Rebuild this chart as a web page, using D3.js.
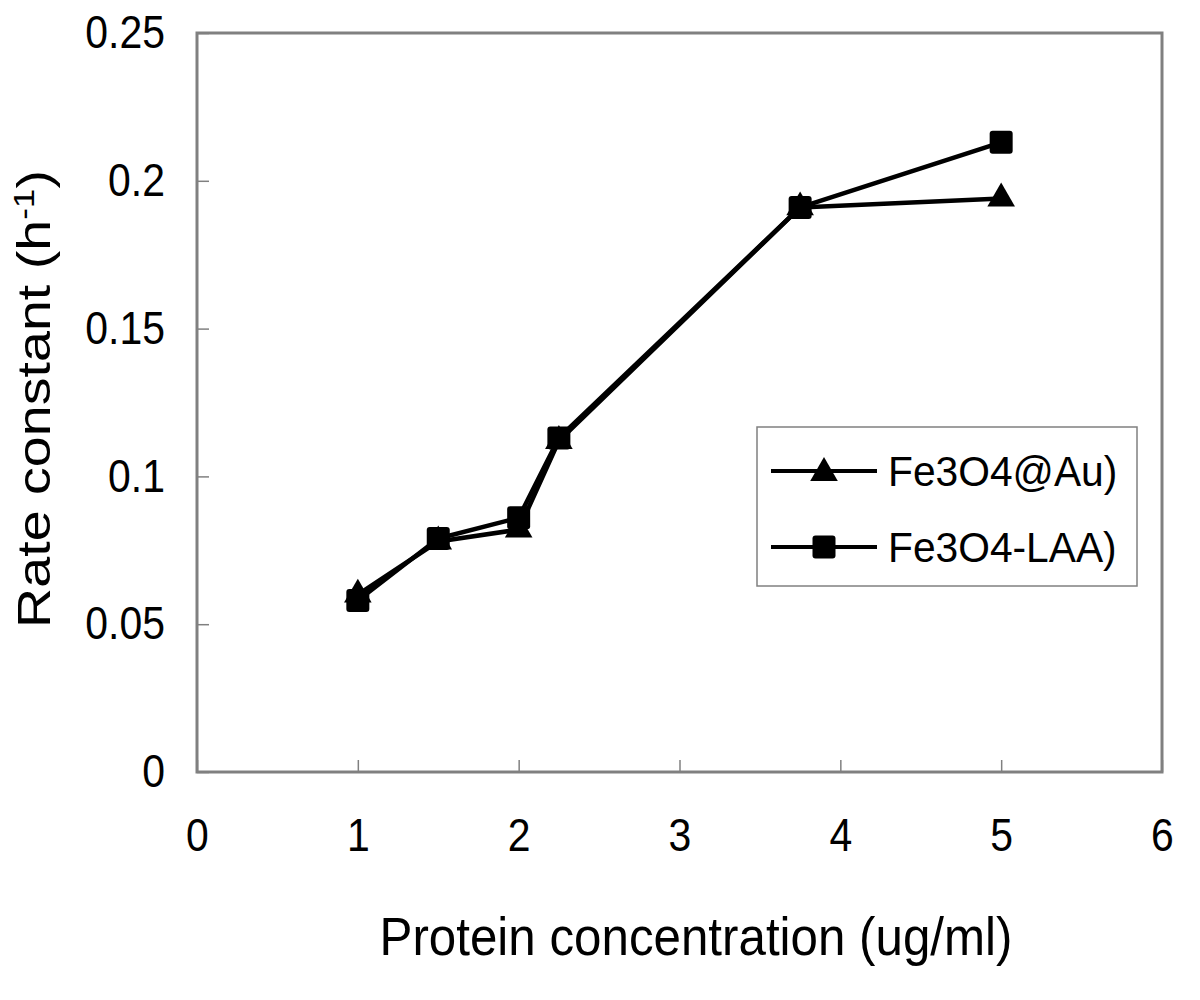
<!DOCTYPE html>
<html>
<head>
<meta charset="utf-8">
<script src="https://cdn.jsdelivr.net/npm/d3@7"></script>
<style>
  body { margin: 0; background: #fff; }
  svg { display: block; font-family: "Liberation Sans", Arial, sans-serif; }
</style>
</head>
<body>
<div id="chart"></div>
<script>
// data
const xValues = [1, 1.5, 2, 2.25, 3.75, 5];
const auValues = [0.060, 0.078, 0.082, 0.112, 0.191, 0.194];
const laaValues = [0.058, 0.079, 0.086, 0.113, 0.191, 0.213];
const seriesNames = ["Fe3O4@Au)", "Fe3O4-LAA)"];
const xTicks = [0, 1, 2, 3, 4, 5, 6];
const yTicks = [0, 0.05, 0.1, 0.15, 0.2, 0.25];
const yTickLabels = ["0", "0.05", "0.1", "0.15", "0.2", "0.25"];

const width = 1200, height = 1000;
const margin = { top: 33, right: 38, bottom: 228, left: 197 };

const svg = d3.select("#chart").append("svg")
  .attr("width", width).attr("height", height);

const x = d3.scaleLinear().domain([0, 6]).range([margin.left, width - margin.right]);
const y = d3.scaleLinear().domain([0, 0.25]).range([height - margin.bottom, margin.top]);

// the original text is a bit narrow for its height: squeeze it horizontally
function squeeze(sel, factor) {
  sel.each(function () {
    const len = this.getComputedTextLength();
    d3.select(this).attr("textLength", len * factor).attr("lengthAdjust", "spacingAndGlyphs");
  });
}

// ── axes (ticks point inward) ───────────────────────────────────────────────
const xAxis = svg.append("g")
  .attr("transform", `translate(0,${y(0)})`)
  .call(d3.axisBottom(x).tickValues(xTicks).tickSize(-12).tickPadding(46)
    .tickFormat(d3.format("d")));

const yAxis = svg.append("g")
  .attr("transform", `translate(${x(0)},0)`)
  .call(d3.axisLeft(y).tickValues(yTicks).tickSize(-12).tickPadding(32)
    .tickFormat((d, i) => yTickLabels[i]));

for (const ax of [xAxis, yAxis]) {
  ax.select(".domain").remove();
  ax.selectAll(".tick line").attr("stroke", "#808080").attr("stroke-width", 1.5);
  ax.selectAll(".tick text").attr("fill", "#000").attr("font-size", "46px")
    .attr("font-family", "'Liberation Sans', Arial, sans-serif");
  squeeze(ax.selectAll(".tick text"), 0.89);
}
yAxis.selectAll(".tick text").attr("dy", "0.32em");

// plot frame
svg.append("rect")
  .attr("x", x(0)).attr("y", y(0.25))
  .attr("width", x(6) - x(0)).attr("height", y(0) - y(0.25))
  .attr("fill", "none").attr("stroke", "#808080").attr("stroke-width", 3);

// ── axis titles ─────────────────────────────────────────────────────────────
const xTitle = svg.append("text")
  .attr("x", 696).attr("y", 955)
  .attr("text-anchor", "middle").attr("font-size", "53px").attr("fill", "#000")
  .text("Protein concentration (ug/ml)");
squeeze(xTitle, 0.93);

const yTitle = svg.append("text")
  .attr("text-anchor", "middle").attr("font-size", "46px").attr("fill", "#000");
yTitle.append("tspan").text("Rate constant (h");
yTitle.append("tspan").attr("font-size", "29px").attr("baseline-shift", "55%").text("-1");
yTitle.append("tspan").text(")");
const yTitleLen = yTitle.node().getBBox().width;
yTitle.attr("transform", `translate(50,399) rotate(-90) scale(${458 / yTitleLen},1)`);

// ── series ──────────────────────────────────────────────────────────────────
const line = d3.line().x((d) => x(d[0])).y((d) => y(d[1]));
const auData = xValues.map((v, i) => [v, auValues[i]]);
const laaData = xValues.map((v, i) => [v, laaValues[i]]);

const triangle = d3.symbol().type(d3.symbolTriangle).size(330);
const sq = 23;

function drawSquare(g, cx, cy) {
  g.append("rect")
    .attr("x", cx - sq / 2).attr("y", cy - sq / 2)
    .attr("width", sq).attr("height", sq).attr("rx", 3)
    .attr("fill", "#000");
}

svg.append("path").datum(auData)
  .attr("d", line).attr("fill", "none").attr("stroke", "#000").attr("stroke-width", 4.5)
  .attr("stroke-linejoin", "round");
svg.append("path").datum(laaData)
  .attr("d", line).attr("fill", "none").attr("stroke", "#000").attr("stroke-width", 4.5)
  .attr("stroke-linejoin", "round");

svg.append("g").selectAll("path").data(auData).join("path")
  .attr("transform", (d) => `translate(${x(d[0])},${y(d[1])})`)
  .attr("d", triangle).attr("fill", "#000");

const sqG = svg.append("g");
for (const d of laaData) drawSquare(sqG, x(d[0]), y(d[1]));

// ── legend ──────────────────────────────────────────────────────────────────
const legend = svg.append("g");
legend.append("rect")
  .attr("x", 757).attr("y", 427).attr("width", 380).attr("height", 159)
  .attr("fill", "#fff").attr("stroke", "#808080").attr("stroke-width", 1.5);

const rows = [471, 547];
rows.forEach((ry, i) => {
  legend.append("line")
    .attr("x1", 771).attr("x2", 877).attr("y1", ry).attr("y2", ry)
    .attr("stroke", "#000").attr("stroke-width", 4);
  if (i === 0) {
    legend.append("path").attr("transform", `translate(824,${ry + 2})`)
      .attr("d", triangle).attr("fill", "#000");
  } else {
    drawSquare(legend, 824, ry);
  }
  const t = legend.append("text")
    .attr("x", 888).attr("y", ry + 15)
    .attr("font-size", "42px").attr("fill", "#000")
    .text(seriesNames[i]);
  squeeze(t, 0.97);
});
</script>
</body>
</html>
